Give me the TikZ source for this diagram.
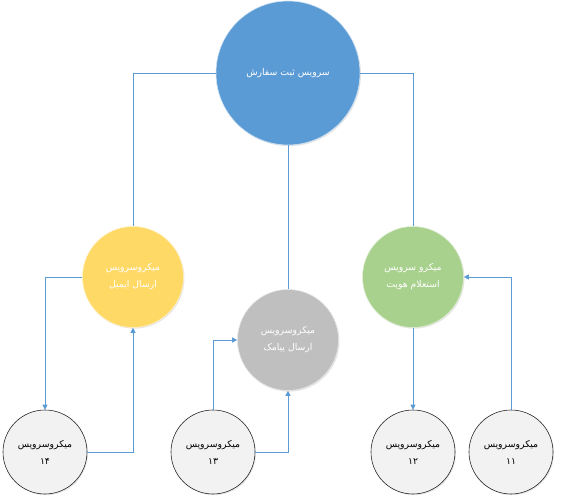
\documentclass[tikz,border=0pt]{standalone}
\usepackage{fontspec}
\newfontfamily\arabicfont[Script=Arabic]{DejaVu Sans}
\TeXXeTstate=1
\usetikzlibrary{arrows.meta,shadows}
\definecolor{linkblue}{HTML}{5B9BD5}
\definecolor{topblue}{HTML}{5B9BD5}
\definecolor{yel}{HTML}{FFD966}
\definecolor{grn}{HTML}{A9D18E}
\definecolor{gry}{HTML}{BFBFBF}
\definecolor{pale}{HTML}{F2F2F2}
\tikzset{
  circ/.style={circle, inner sep=0pt, align=center, font=\arabicfont\fontsize{9.3}{17}\selectfont,
    drop shadow={opacity=0.2, shadow xshift=1pt, shadow yshift=-1.2pt}},
  bigc/.style={circ, minimum size=144pt, fill=topblue, draw=white!70!topblue, line width=0.6pt, text=white},
  midc/.style={circ, minimum size=101pt, draw=white!60!#1, fill=#1, line width=0.6pt, text=white},
  lowc/.style={circ, minimum size=84pt, fill=pale, draw=black!85, line width=0.6pt, text=black},
  link/.style={draw=linkblue, line width=0.6pt},
  arr/.style={link, -{Triangle[length=5pt,width=5pt]}}
}
\begin{document}
\begin{tikzpicture}[x=1pt,y=-1pt]
\useasboundingbox (0,0) rectangle (562,502);
\node[bigc] (top) at (288,73) {\beginR سرویس ثبت سفارش\endR};
\node[midc=yel] (ym) at (133,277) {\beginR میکروسرویس\endR\\\beginR ارسال ایمیل\endR};
\node[midc=grn] (gm) at (413,277) {\beginR میکرو سرویس\endR\\\beginR استعلام هویت\endR};
\node[midc=gry] (rm) at (288,340) {\beginR میکروسرویس\endR\\\beginR ارسال پیامک\endR};
\node[lowc] (c14) at (45,452) {\beginR میکروسرویس\endR\\۱۴};
\node[lowc] (c13) at (213,452) {\beginR میکروسرویس\endR\\۱۳};
\node[lowc] (c12) at (413,452) {\beginR میکروسرویس\endR\\۱۲};
\node[lowc] (c11) at (511,452) {\beginR میکروسرویس\endR\\۱۱};
\draw[link] (top.west) -| (ym.north);
\draw[link] (top.east) -| (gm.north);
\draw[link] (top.south) -- (rm.north);
\draw[arr] (ym.west) -| (c14.north);
\draw[arr] (c14.east) -| (ym.south);
\draw[arr] (c13.north) |- (rm.west);
\draw[arr] (c13.east) -| (rm.south);
\draw[arr] (gm.south) -- (c12.north);
\draw[arr] (c11.north) |- (gm.east);
\end{tikzpicture}
\end{document}
